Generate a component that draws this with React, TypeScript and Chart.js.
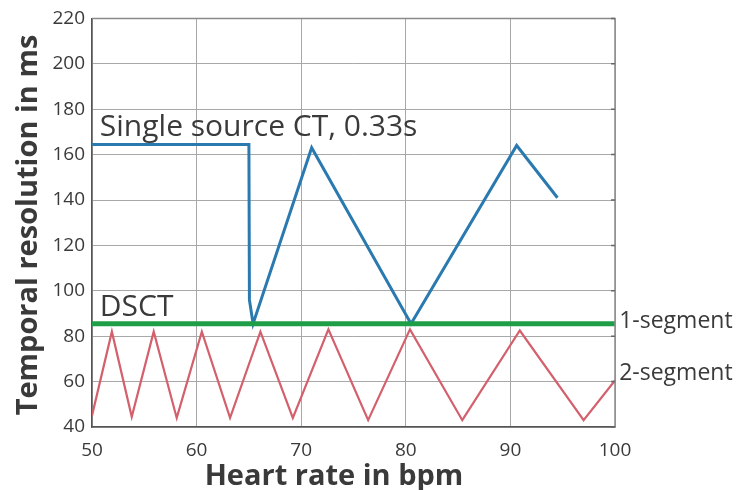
import React, { useEffect, useRef } from "react";
import { Chart, registerables } from "chart.js";
Chart.register(...registerables);

// Single source CT, 0.33 s (blue)
const singleSourceX = [50, 65.0, 65.05, 65.4, 71.0, 80.5, 90.6, 94.5];
const singleSourceY = [164.5, 164.5, 96, 85.5, 163, 85.5, 164, 141];

// DSCT 1-segment (green)
const dsctX = [50, 100];
const dsctY = [85.5, 85.5];

// DSCT 2-segment (red)
const twoSegX = [50, 51.9, 53.8, 55.9, 58.1, 60.5, 63.2, 66.1, 69.2, 72.6, 76.4, 80.4, 85.4, 90.9, 97.0, 100];
const twoSegY = [45, 82, 44.5, 82, 44, 82, 44, 82, 44, 83, 43, 83, 43, 82.5, 43, 60.5];

// axis ticks
const xTicks = [50, 60, 70, 80, 90, 100];
const yTicks = [40, 60, 80, 100, 120, 140, 160, 180, 200, 220];

// annotation texts and their anchors (data units)
const noteTexts = ["Single source CT, 0.33s", "DSCT", "1-segment", "2-segment"];
const noteX = [50.75, 50.75, 100.4, 100.4];
const noteY = [168.2, 88.7, 83.5, 60.6];

const xTitle = "Heart rate in bpm";
const yTitle = "Temporal resolution in ms";

const TEXT = "#3a3a3a";
const FONT = "'Open Sans', 'Noto Sans', sans-serif";

const toPts = (xs: number[], ys: number[]) => xs.map((x, i) => ({ x, y: ys[i] }));

const overlay = {
  id: "overlay",
  afterDraw(chart: any) {
    const { ctx, chartArea, scales } = chart;
    const xs = scales.x;
    const ys = scales.y;
    ctx.save();
    // top/right frame with small inward ticks on the right
    ctx.strokeStyle = "#8a8a8a";
    ctx.lineWidth = 1.5;
    ctx.beginPath();
    ctx.moveTo(chartArea.left, chartArea.top);
    ctx.lineTo(chartArea.right, chartArea.top);
    ctx.lineTo(chartArea.right, chartArea.bottom);
    ctx.stroke();
    ctx.strokeStyle = "#666";
    ctx.beginPath();
    yTicks.forEach((v) => {
      const py = ys.getPixelForValue(v);
      ctx.moveTo(chartArea.right - 4, py);
      ctx.lineTo(chartArea.right, py);
    });
    ctx.stroke();
    // annotations
    ctx.fillStyle = TEXT;
    ctx.textBaseline = "alphabetic";
    ctx.textAlign = "left";
    const sizes = [30, 30, 23, 23];
    noteTexts.forEach((t, i) => {
      ctx.font = `${sizes[i]}px ${FONT}`;
      ctx.fillText(t, xs.getPixelForValue(noteX[i]), ys.getPixelForValue(noteY[i]));
    });
    // axis titles
    ctx.font = `bold 29px ${FONT}`;
    ctx.textAlign = "center";
    ctx.fillText(xTitle, 334, 485);
    ctx.translate(37, 225);
    ctx.rotate(-Math.PI / 2);
    ctx.fillText(yTitle, 0, 0);
    ctx.restore();
  },
};

export default function App() {
  const ref = useRef<HTMLCanvasElement | null>(null);
  useEffect(() => {
    if (!ref.current) return;
    document.body.style.margin = "0";
    const chart = new Chart(ref.current, {
      type: "line",
      data: {
        datasets: [
          {
            label: "2-segment",
            data: toPts(twoSegX, twoSegY),
            borderColor: "#d3606c",
            borderWidth: 2.2,
            pointRadius: 0,
            tension: 0,
          },
          {
            label: "1-segment",
            data: toPts(dsctX, dsctY),
            borderColor: "#1f9e48",
            borderWidth: 5,
            pointRadius: 0,
            tension: 0,
          },
          {
            label: "Single source CT, 0.33s",
            data: toPts(singleSourceX, singleSourceY),
            borderColor: "#2a7ab0",
            borderWidth: 3,
            pointRadius: 0,
            tension: 0,
          },
        ],
      },
      plugins: [overlay],
      options: {
        animation: false,
        responsive: false,
        layout: { padding: { left: 0, top: 17, right: 125, bottom: 0 } },
        plugins: { legend: { display: false }, tooltip: { enabled: false } },
        scales: {
          x: {
            type: "linear",
            min: 50,
            max: 100,
            afterBuildTicks: (s: any) => {
              s.ticks = xTicks.map((v) => ({ value: v }));
            },
            afterFit: (s: any) => {
              s.height = 63;
            },
            grid: { color: "#a8a8a8", lineWidth: 1, drawTicks: false },
            border: { color: "#555", width: 1.5 },
            ticks: { color: TEXT, font: { family: FONT, size: 19 }, padding: 12, maxRotation: 0 },
          },
          y: {
            type: "linear",
            min: 40,
            max: 220,
            afterBuildTicks: (s: any) => {
              s.ticks = yTicks.map((v) => ({ value: v }));
            },
            afterFit: (s: any) => {
              s.width = 92;
            },
            grid: { color: "#a8a8a8", lineWidth: 1, drawTicks: false },
            border: { color: "#555", width: 1.5 },
            ticks: { color: TEXT, font: { family: FONT, size: 19 }, padding: 7 },
          },
        },
      },
    });
    return () => chart.destroy();
  }, []);
  return (
    <div style={{ position: "absolute", left: 0, top: 0, width: 740, height: 490, background: "#fff" }}>
      <canvas ref={ref} width={740} height={490} />
    </div>
  );
}
